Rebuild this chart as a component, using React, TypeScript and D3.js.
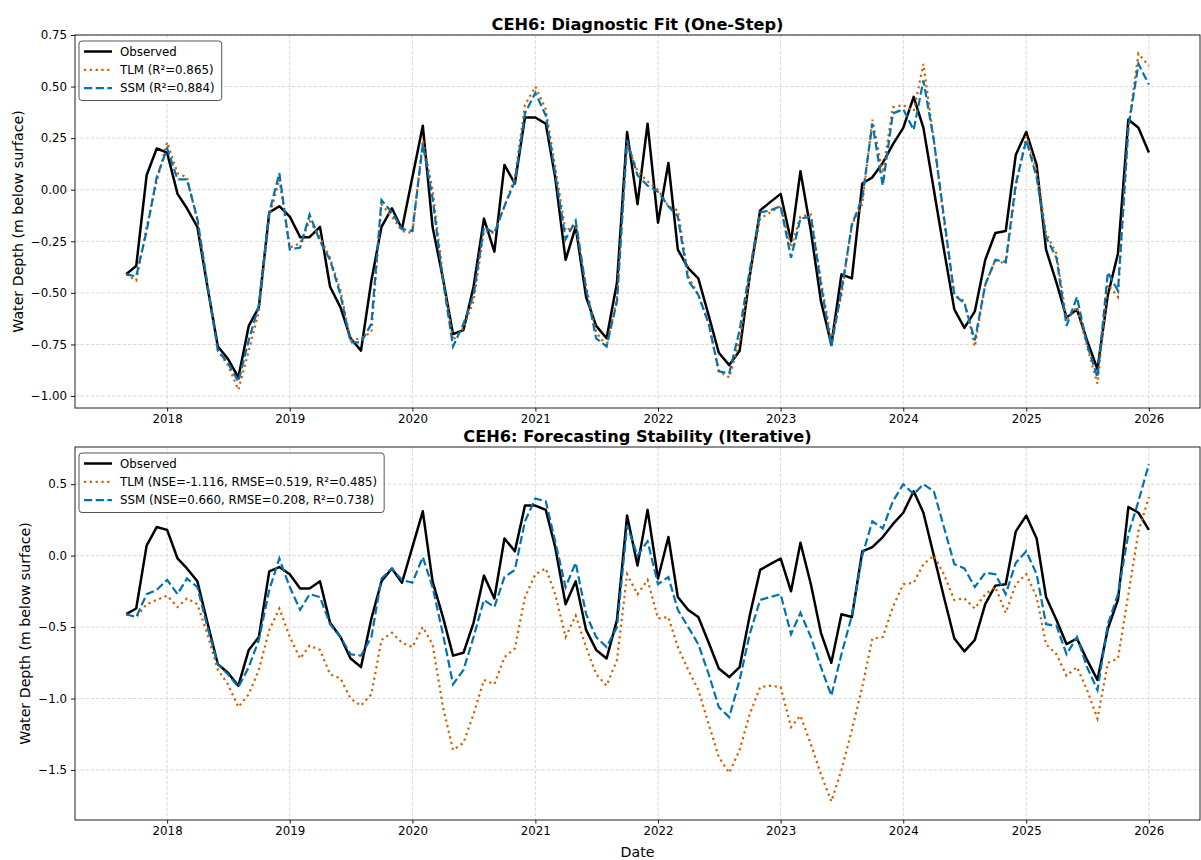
import React, { useEffect, useRef } from "react";
import * as d3 from "d3";

// monthly series, first point 2017-09, last point 2026-01
const firstMonth = new Date(2017, 8, 1);
const lastMonth = new Date(2026, 0, 1);

const observed = [
  -0.41, -0.37, 0.07, 0.2, 0.18, -0.02, -0.09, -0.18, -0.47, -0.76, -0.82, -0.91, -0.66, -0.57, -0.11, -0.08,
  -0.13, -0.23, -0.23, -0.18, -0.47, -0.57, -0.72, -0.78, -0.44, -0.18, -0.09, -0.19, 0.06, 0.31, -0.18, -0.43,
  -0.7, -0.68, -0.47, -0.14, -0.3, 0.12, 0.03, 0.35, 0.35, 0.32, 0.06, -0.34, -0.18, -0.52, -0.66, -0.72,
  -0.45, 0.28, -0.07, 0.32, -0.16, 0.13, -0.29, -0.38, -0.43, -0.61, -0.79, -0.85, -0.78, -0.42, -0.1, -0.06,
  -0.02, -0.25, 0.09, -0.2, -0.54, -0.75, -0.41, -0.43, 0.03, 0.06, 0.13, 0.22, 0.3, 0.45, 0.3, 0.0,
  -0.29, -0.58, -0.67, -0.59, -0.34, -0.21, -0.2, 0.17, 0.28, 0.12, -0.29, -0.45, -0.62, -0.58, -0.73, -0.87,
  -0.51, -0.31, 0.34, 0.3, 0.18,
];

const tlmOneStep = [
  -0.41, -0.44, -0.18, 0.04, 0.23, 0.08, 0.06, -0.15, -0.46, -0.78, -0.85, -0.97, -0.78, -0.59, -0.13, 0.05,
  -0.28, -0.26, -0.15, -0.23, -0.33, -0.49, -0.73, -0.72, -0.69, -0.07, -0.13, -0.2, -0.21, 0.24, 0.0, -0.42,
  -0.73, -0.67, -0.54, -0.2, -0.21, -0.08, 0.06, 0.41, 0.5, 0.39, 0.11, -0.2, -0.17, -0.47, -0.69, -0.76,
  -0.52, 0.22, 0.09, 0.04, 0.0, -0.08, -0.1, -0.42, -0.51, -0.65, -0.88, -0.91, -0.73, -0.42, -0.14, -0.11,
  -0.08, -0.28, -0.13, -0.12, -0.44, -0.73, -0.51, -0.17, -0.07, 0.34, 0.08, 0.4, 0.41, 0.38, 0.61, 0.24,
  -0.15, -0.51, -0.54, -0.76, -0.46, -0.34, -0.36, 0.01, 0.26, 0.09, -0.21, -0.31, -0.63, -0.57, -0.76, -0.94,
  -0.46, -0.52, 0.3, 0.66, 0.6,
];

const ssmOneStep = [
  -0.41, -0.42, -0.2, 0.06, 0.2, 0.05, 0.05, -0.14, -0.46, -0.78, -0.84, -0.93, -0.73, -0.56, -0.11, 0.08,
  -0.29, -0.28, -0.12, -0.25, -0.34, -0.51, -0.74, -0.74, -0.65, -0.05, -0.11, -0.19, -0.2, 0.22, -0.04, -0.44,
  -0.76, -0.65, -0.51, -0.18, -0.21, -0.08, 0.04, 0.37, 0.47, 0.36, 0.08, -0.24, -0.15, -0.48, -0.72, -0.76,
  -0.54, 0.24, 0.07, 0.02, -0.01, -0.08, -0.13, -0.44, -0.51, -0.65, -0.88, -0.89, -0.68, -0.39, -0.11, -0.1,
  -0.08, -0.33, -0.14, -0.13, -0.46, -0.76, -0.49, -0.17, -0.04, 0.32, 0.02, 0.37, 0.39, 0.29, 0.53, 0.24,
  -0.13, -0.51, -0.55, -0.73, -0.46, -0.34, -0.35, 0.03, 0.24, 0.06, -0.23, -0.33, -0.66, -0.52, -0.75, -0.91,
  -0.4, -0.49, 0.3, 0.61, 0.51,
];

const tlmIterative = [
  -0.41, -0.43, -0.34, -0.31, -0.28, -0.36, -0.3, -0.34, -0.55, -0.8, -0.9, -1.06, -0.97, -0.8, -0.52, -0.37,
  -0.57, -0.72, -0.63, -0.66, -0.83, -0.86, -1.0, -1.05, -0.97, -0.59, -0.54, -0.61, -0.64, -0.5, -0.62, -1.06,
  -1.36, -1.31, -1.11, -0.87, -0.9, -0.71, -0.65, -0.29, -0.13, -0.09, -0.27, -0.57, -0.42, -0.64, -0.83, -0.91,
  -0.73, -0.13, -0.27, -0.17, -0.44, -0.43, -0.64, -0.8, -0.94, -1.18, -1.41, -1.52, -1.36, -1.11, -0.92, -0.91,
  -0.92, -1.2, -1.12, -1.32, -1.53, -1.72, -1.5, -1.22, -0.92, -0.58, -0.57, -0.36, -0.2, -0.19, -0.06, 0.0,
  -0.13, -0.31, -0.3, -0.37, -0.27, -0.22, -0.4, -0.2, -0.13, -0.29, -0.62, -0.69, -0.84, -0.78, -0.94, -1.14,
  -0.75, -0.72, -0.27, 0.17, 0.41,
];

const ssmIterative = [
  -0.41, -0.43, -0.27, -0.24, -0.17, -0.27, -0.16, -0.22, -0.5, -0.76, -0.83, -0.92, -0.78, -0.59, -0.24, -0.02,
  -0.22, -0.38, -0.27, -0.29, -0.48, -0.57, -0.69, -0.7, -0.57, -0.16, -0.09, -0.17, -0.19, -0.01, -0.22, -0.55,
  -0.9, -0.8, -0.57, -0.31, -0.36, -0.15, -0.1, 0.24, 0.4, 0.38, 0.1, -0.22, -0.05, -0.41, -0.57, -0.64,
  -0.5, 0.21, 0.0, 0.1, -0.2, -0.15, -0.38, -0.5, -0.62, -0.83, -1.06, -1.13, -0.87, -0.55, -0.31, -0.29,
  -0.27, -0.55, -0.4, -0.57, -0.78, -0.98, -0.69, -0.42, 0.0, 0.24, 0.19, 0.38, 0.5, 0.43, 0.5, 0.45,
  0.2, -0.06, -0.09, -0.22, -0.12, -0.13, -0.27, -0.05, 0.03, -0.13, -0.48, -0.49, -0.69, -0.57, -0.78, -0.94,
  -0.48, -0.27, 0.15, 0.38, 0.64,
];

const yearTicks = [2018, 2019, 2020, 2021, 2022, 2023, 2024, 2025, 2026];
const topYTicks = [-1.0, -0.75, -0.5, -0.25, 0.0, 0.25, 0.5, 0.75];
const bottomYTicks = [-1.5, -1.0, -0.5, 0.0, 0.5];

const FONT = "'DejaVu Sans', sans-serif";
const OBS_COLOR = "#000000";
const TLM_COLOR = "#d55e00";
const SSM_COLOR = "#0072b2";

const drawPanel = (svg, dates, x, cfg) => {
  const left = 75;
  const right = 1200;
  const { top, bottom } = cfg;

  const y = d3.scaleLinear().domain(cfg.yDomain).range([bottom, top]);
  const g = svg.append("g");

  // grid
  g.append("g")
    .selectAll("line")
    .data(cfg.yTicks)
    .join("line")
    .attr("x1", left)
    .attr("x2", right)
    .attr("y1", (d) => y(d))
    .attr("y2", (d) => y(d))
    .attr("stroke", "#cfcfcf")
    .attr("stroke-width", 0.8)
    .attr("stroke-dasharray", "3.5,1.8");
  g.append("g")
    .selectAll("line")
    .data(yearTicks)
    .join("line")
    .attr("x1", (d) => x(new Date(d, 0, 1)))
    .attr("x2", (d) => x(new Date(d, 0, 1)))
    .attr("y1", top)
    .attr("y2", bottom)
    .attr("stroke", "#cfcfcf")
    .attr("stroke-width", 0.8)
    .attr("stroke-dasharray", "3.5,1.8");

  const line = d3
    .line()
    .x((d, i) => x(dates[i]))
    .y((d) => y(d));

  g.append("path")
    .datum(observed)
    .attr("d", line)
    .attr("fill", "none")
    .attr("stroke", OBS_COLOR)
    .attr("stroke-width", 2.5)
    .attr("stroke-linejoin", "round");

  g.append("path")
    .datum(cfg.tlm)
    .attr("d", line)
    .attr("fill", "none")
    .attr("stroke", TLM_COLOR)
    .attr("stroke-width", 2.2)
    .attr("stroke-dasharray", "2.2,3.6");

  g.append("path")
    .datum(cfg.ssm)
    .attr("d", line)
    .attr("fill", "none")
    .attr("stroke", SSM_COLOR)
    .attr("stroke-width", 2.2)
    .attr("stroke-dasharray", "8.2,3.5");

  // frame
  g.append("rect")
    .attr("x", left)
    .attr("y", top)
    .attr("width", right - left)
    .attr("height", bottom - top)
    .attr("fill", "none")
    .attr("stroke", "#222")
    .attr("stroke-width", 1);

  // axes
  const yAxisG = g
    .append("g")
    .attr("transform", `translate(${left},0)`)
    .call(
      d3
        .axisLeft(y)
        .tickValues(cfg.yTicks)
        .tickFormat(d3.format(cfg.yFormat))
        .tickSize(4)
        .tickPadding(4)
    );
  const xAxisG = g
    .append("g")
    .attr("transform", `translate(0,${bottom})`)
    .call(
      d3
        .axisBottom(x)
        .tickValues(yearTicks.map((yr) => new Date(yr, 0, 1)))
        .tickFormat(d3.timeFormat("%Y"))
        .tickSize(3.5)
        .tickPadding(3.2)
    );
  [yAxisG, xAxisG].forEach((ax) => {
    ax.select(".domain").remove();
    ax.selectAll("text")
      .style("font-family", FONT)
      .style("font-size", "11.8px")
      .attr("fill", "#000");
    ax.selectAll("line").attr("stroke", "#000").attr("stroke-width", 0.9);
  });

  // title
  g.append("text")
    .attr("x", (left + right) / 2)
    .attr("y", top - 5.5)
    .style("text-anchor", "middle")
    .style("font-family", FONT)
    .style("font-size", "16.2px")
    .style("font-weight", "bold")
    .text(cfg.title);

  // y label, placed left of the tick labels
  const bb = yAxisG.node().getBBox();
  g.append("text")
    .attr("transform", `translate(${left + bb.x - 8.2},${(top + bottom) / 2}) rotate(-90)`)
    .style("text-anchor", "middle")
    .style("font-family", FONT)
    .style("font-size", "14.2px")
    .text("Water Depth (m below surface)");

  if (cfg.xLabel) {
    g.append("text")
      .attr("x", (left + right) / 2)
      .attr("y", bottom + 36.5)
      .style("text-anchor", "middle")
      .style("font-family", FONT)
      .style("font-size", "14.2px")
      .text(cfg.xLabel);
  }

  // legend
  const items = [
    { label: "Observed", color: OBS_COLOR, width: 2.5, dash: null },
    { label: cfg.tlmLabel, color: TLM_COLOR, width: 2.2, dash: "2.2,3.6" },
    { label: cfg.ssmLabel, color: SSM_COLOR, width: 2.2, dash: "8.2,3.5" },
  ];
  const legend = g.append("g").attr("transform", `translate(${left + 4},${top + 6})`);
  const frame = legend
    .append("rect")
    .attr("rx", 3)
    .attr("fill", "white")
    .attr("fill-opacity", 0.85)
    .attr("stroke", "#555")
    .attr("stroke-width", 1);
  let maxW = 0;
  items.forEach((it, i) => {
    const cy = 10.5 + i * 18.3;
    legend
      .append("line")
      .attr("x1", 5)
      .attr("x2", 33)
      .attr("y1", cy)
      .attr("y2", cy)
      .attr("stroke", it.color)
      .attr("stroke-width", it.width)
      .attr("stroke-dasharray", it.dash);
    const t = legend
      .append("text")
      .attr("x", 41)
      .attr("y", cy + 4.2)
      .style("font-family", FONT)
      .style("font-size", "11.8px")
      .text(it.label);
    maxW = Math.max(maxW, t.node().getComputedTextLength());
  });
  frame.attr("width", 41 + maxW + 7).attr("height", 59.5);
};

const App = () => {
  const ref = useRef(null);

  useEffect(() => {
    d3.select(ref.current).selectAll("*").remove();

    const dates = d3.timeMonth.range(firstMonth, d3.timeMonth.offset(lastMonth, 1));
    const pad = (lastMonth.getTime() - firstMonth.getTime()) * 0.05;
    const x = d3
      .scaleTime()
      .domain([new Date(firstMonth.getTime() - pad), new Date(lastMonth.getTime() + pad)])
      .range([75, 1200]);

    const svg = d3
      .select(ref.current)
      .append("svg")
      .attr("width", 1201)
      .attr("height", 860)
      .style("display", "block")
      .style("background", "white");

    drawPanel(svg, dates, x, {
      title: "CEH6: Diagnostic Fit (One-Step)",
      top: 35,
      bottom: 408,
      yDomain: [-1.058, 0.75],
      yTicks: topYTicks,
      yFormat: ".2f",
      tlm: tlmOneStep,
      ssm: ssmOneStep,
      tlmLabel: "TLM (R²=0.865)",
      ssmLabel: "SSM (R²=0.884)",
      xLabel: null,
    });

    drawPanel(svg, dates, x, {
      title: "CEH6: Forecasting Stability (Iterative)",
      top: 447,
      bottom: 820,
      yDomain: [-1.85, 0.76],
      yTicks: bottomYTicks,
      yFormat: ".1f",
      tlm: tlmIterative,
      ssm: ssmIterative,
      tlmLabel: "TLM (NSE=-1.116, RMSE=0.519, R²=0.485)",
      ssmLabel: "SSM (NSE=0.660, RMSE=0.208, R²=0.738)",
      xLabel: "Date",
    });
  }, []);

  return <div ref={ref} style={{ position: "absolute", left: 0, top: 0 }}></div>;
};

export default App;
